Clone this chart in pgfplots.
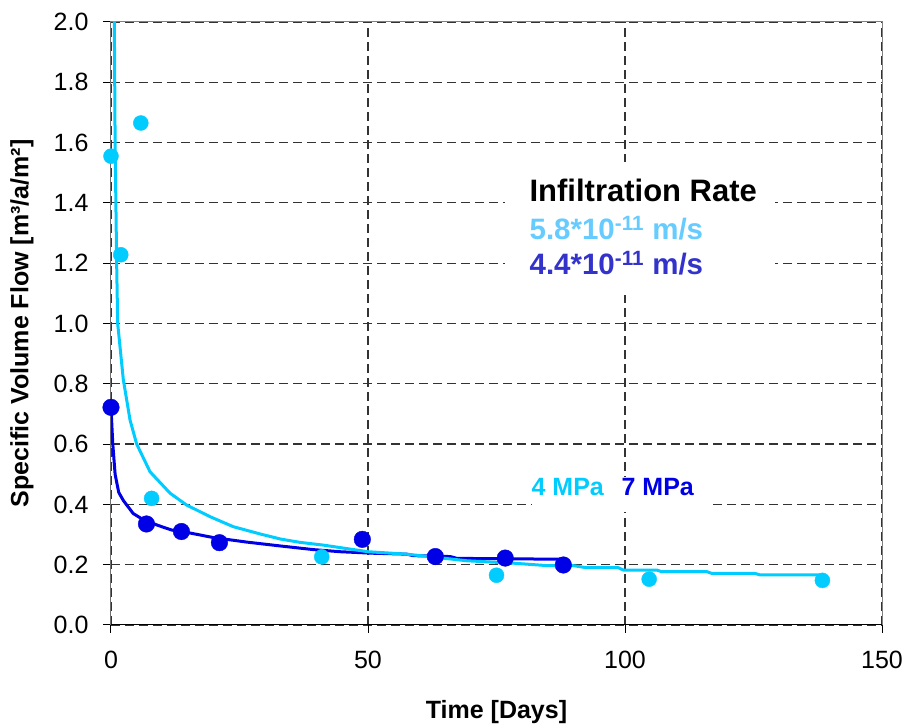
\documentclass[border=0pt]{standalone}
\usepackage{fontspec}
\setmainfont{Liberation Sans}
\usepackage{pgfplots}
\pgfplotsset{compat=1.18}
\definecolor{ltcyan}{RGB}{0,204,255}
\definecolor{dkblue}{RGB}{0,0,230}
\definecolor{txtcyan}{RGB}{102,204,255}
\definecolor{txtblue}{RGB}{51,51,204}
\definecolor{framegray}{RGB}{128,128,128}

\begin{document}
\begin{tikzpicture}
\path[use as bounding box] (-111pt,-102pt) rectangle (797pt,625pt);
\begin{axis}[
    scale only axis, width=771pt, height=603pt,
    xmin=0, xmax=150, ymin=0, ymax=2,
    xtick={0,50,100,150},
    ytick={0,0.2,0.4,0.6,0.8,1.0,1.2,1.4,1.6,1.8,2.0},
    xtick pos=left, ytick pos=left,
    tick align=outside, major tick length=8pt,
    tick style={black, line width=1pt},
    axis line style={framegray, line width=1pt},
    grid=major,
    major grid style={black!80, line width=1.2pt, dash pattern=on 9pt off 5pt},
    /pgf/number format/assume math mode=true,
    tick label style={font=\fontsize{25}{25}\selectfont},
    yticklabel style={xshift=-11pt, /pgf/number format/.cd, fixed, fixed zerofill, precision=1},
    xticklabel style={yshift=-15pt, /pgf/number format/.cd, fixed, precision=0},
    xlabel={\bfseries Time [Days]},
    ylabel={\bfseries Specific Volume Flow [m³/a/m²]},
    label style={font=\fontsize{25}{25}\selectfont},
    x label style={at={(axis description cs:0.5,-0.1443)}, anchor=center},
    y label style={at={(axis description cs:-0.1154,0.5)}, anchor=center},
]
% black axis lines on left and bottom
\draw[black, line width=1pt] (rel axis cs:0,1) -- (rel axis cs:0,0) -- (rel axis cs:1,0);

% 7 MPa fit
\addplot[dkblue, line width=3pt, no marks] coordinates {
(0,0.72)(0.35,0.6)(0.8,0.5)(1.5,0.44)(2.4,0.413)(4.3,0.37)(6.2,0.35)(9.2,0.33)
(11.8,0.315)(15.4,0.305)(19.9,0.29)(26.4,0.275)(33,0.262)(39.4,0.25)(44.6,0.243)
(51,0.238)(57.5,0.235)(58.8,0.23)(66,0.227)(67.3,0.221)(88.5,0.218)};
% 7 MPa measured
\addplot[only marks, mark=*, mark size=8.3pt, dkblue] coordinates {
(0,0.722)(6.9,0.335)(13.7,0.31)(21.1,0.273)(48.9,0.284)(63.1,0.227)(76.7,0.222)(88,0.199)};

% 4 MPa fit
\addplot[ltcyan, line width=3pt, no marks] coordinates {
(0.45,2.3)(0.65,2.0)(0.8,1.6)(1.1,1.2)(1.3,1.0)(2.4,0.813)(3.7,0.68)(5.0,0.6)
(7.6,0.508)(11.5,0.437)(14.7,0.398)(19.3,0.359)(23.8,0.326)(29,0.302)(33,0.285)
(36.8,0.274)(41.3,0.265)(50,0.243)(57.5,0.235)(63.4,0.224)(69.2,0.213)(78.3,0.205)
(84.8,0.197)(89.9,0.197)(92.5,0.19)(98.7,0.19)(99.7,0.182)(106.2,0.182)(107.1,0.177)
(115.9,0.177)(116.9,0.171)(125.3,0.171)(126.3,0.166)(138,0.166)};
% 4 MPa measured
\addplot[only marks, mark=*, mark size=7.5pt, ltcyan] coordinates {
(0,1.555)(1.9,1.228)(5.8,1.665)(7.9,0.42)(41,0.226)(75,0.165)(104.7,0.152)(138.4,0.148)};

% text boxes
\fill[white] (axis cs:76.7,1.094) rectangle (axis cs:129.2,1.535);
\node[anchor=base west, inner sep=0pt, font=\bfseries\fontsize{31}{31}\selectfont]
  at (axis cs:81.4,1.404) {Infiltration Rate};
\node[anchor=base west, inner sep=0pt, text=txtcyan, font=\bfseries\fontsize{29.5}{29.5}\selectfont]
  at (axis cs:81.4,1.277) {5.8*10\textsuperscript{-11} m/s};
\node[anchor=base west, inner sep=0pt, text=txtblue, font=\bfseries\fontsize{29.5}{29.5}\selectfont]
  at (axis cs:81.4,1.161) {4.4*10\textsuperscript{-11} m/s};

\fill[white] (axis cs:82,0.375) rectangle (axis cs:117,0.49);
\node[anchor=base west, inner sep=0pt, text=ltcyan, font=\bfseries\fontsize{25}{25}\selectfont]
  at (axis cs:81.8,0.431) {4 MPa};
\node[anchor=base west, inner sep=0pt, text=dkblue, font=\bfseries\fontsize{25}{25}\selectfont]
  at (axis cs:99.3,0.431) {7 MPa};
\end{axis}
\end{tikzpicture}
\end{document}
